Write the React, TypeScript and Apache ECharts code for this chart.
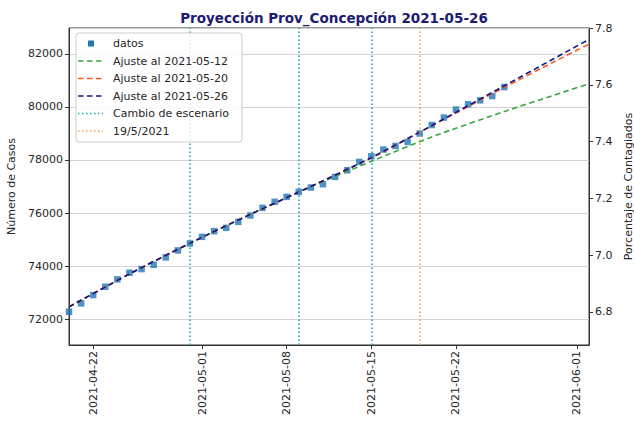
import React, { useEffect, useRef } from "react";
import * as echarts from "echarts";

const categories = [
  "2021-04-20","2021-04-21","2021-04-22","2021-04-23","2021-04-24","2021-04-25","2021-04-26",
  "2021-04-27","2021-04-28","2021-04-29","2021-04-30","2021-05-01","2021-05-02","2021-05-03",
  "2021-05-04","2021-05-05","2021-05-06","2021-05-07","2021-05-08","2021-05-09","2021-05-10",
  "2021-05-11","2021-05-12","2021-05-13","2021-05-14","2021-05-15","2021-05-16","2021-05-17",
  "2021-05-18","2021-05-19","2021-05-20","2021-05-21","2021-05-22","2021-05-23","2021-05-24",
  "2021-05-25","2021-05-26","2021-05-27","2021-05-28","2021-05-29","2021-05-30","2021-05-31",
  "2021-06-01","2021-06-02",
];

// observed cases, one per day from 2021-04-20 to 2021-05-26
const datosCasos = [
  72275, 72592, 72904, 73217, 73496, 73745, 73884, 74046, 74325, 74588,
  74852, 75101, 75316, 75440, 75666, 75907, 76194, 76420, 76608, 76797,
  76962, 77087, 77362, 77614, 77927, 78142, 78394, 78530, 78681, 78997,
  79320, 79600, 79902, 80101, 80252, 80414, 80753,
];

const ajusteFechas = [
  "2021-04-20","2021-04-25","2021-04-30","2021-05-05","2021-05-10",
  "2021-05-15","2021-05-20","2021-05-26","2021-05-30","2021-06-02",
];
const ajuste0512 = [72460, 73700, 74860, 75950, 76990, 77950, 78870, 79830, 80430, 80880];
const ajuste0520 = [72460, 73700, 74860, 75950, 77000, 78080, 79290, 80740, 81680, 82370];
const ajuste0526 = [72460, 73700, 74860, 75950, 77000, 78090, 79300, 80800, 81800, 82550];

const cambioEscenario = ["2021-04-30", "2021-05-09", "2021-05-15"];
const fecha195 = ["2021-05-19"];

const leftMin = 71020;
const leftMax = 82980;
const rightMin = 6.683;
const rightMax = 7.8;

const FONT = "DejaVu Sans";
const C_DATOS = "#1f77b4";
const C_GREEN = "#3aa83a";
const C_ORANGE = "#ff5722";
const C_NAVY = "#14148a";
const C_CYAN = "#17a8b8";
const C_ORANGE2 = "#f5a040";

const tickDays = ["01", "08", "15", "22"];
const showTick = (_i: number, v: string) => tickDays.includes(String(v).slice(8));

export default function App() {
  const ref = useRef<HTMLDivElement>(null);
  useEffect(() => {
    if (!ref.current) return;
    const chart = echarts.init(ref.current, null, { renderer: "svg" });

    const legendRows = [
      { kind: "square", color: C_DATOS, text: "datos" },
      { kind: "dash", color: C_GREEN, text: "Ajuste al 2021-05-12" },
      { kind: "dash", color: C_ORANGE, text: "Ajuste al 2021-05-20" },
      { kind: "dash", color: C_NAVY, text: "Ajuste al 2021-05-26" },
      { kind: "dot", color: C_CYAN, text: "Cambio de escenario" },
      { kind: "dot", color: C_ORANGE2, text: "19/5/2021" },
    ];
    const legendEls: any[] = [
      {
        type: "rect",
        shape: { x: 76, y: 33, width: 166, height: 109, r: 3 },
        style: { fill: "rgba(255,255,255,0.85)", stroke: "#cccccc", lineWidth: 1 },
        z: 100,
      },
    ];
    legendRows.forEach((r, i) => {
      const y = 43.5 + i * 17.5;
      if (r.kind === "square") {
        legendEls.push({
          type: "rect",
          shape: { x: 88, y: y - 3, width: 6, height: 6 },
          style: { fill: r.color },
          z: 101,
        });
      } else {
        legendEls.push({
          type: "line",
          shape: { x1: 78, y1: y, x2: 103, y2: y },
          style: {
            stroke: r.color,
            lineWidth: 1.6,
            lineDash: r.kind === "dash" ? [5.5, 3.5] : [1.5, 2.5],
          },
          z: 101,
        });
      }
      legendEls.push({
        type: "text",
        x: 113,
        y: y,
        style: {
          text: r.text,
          font: `11px ${FONT}`,
          fill: "#262626",
          verticalAlign: "middle",
          align: "left",
        },
        z: 101,
      });
    });

    const fitSeries = (name: string, vals: number[], color: string) => ({
      name,
      type: "line",
      xAxisIndex: 0,
      yAxisIndex: 0,
      data: ajusteFechas.map((d, i) => [d, vals[i]]),
      symbol: "none",
      smooth: 0.25,
      lineStyle: { color, width: 1.6, type: [5.5, 3.5] },
      z: 3,
    });

    chart.setOption({
      animation: false,
      textStyle: { fontFamily: FONT },
      title: {
        text: "Proyección Prov_Concepción 2021-05-26",
        left: 329,
        top: 6,
        textAlign: "center",
        textStyle: { fontFamily: FONT, fontSize: 13.5, fontWeight: "bold", color: "#1c1c72" },
      },
      grid: {
        left: 69,
        top: 28,
        width: 520,
        height: 317,
        show: true,
        borderColor: "#333",
        borderWidth: 1,
        backgroundColor: "transparent",
        containLabel: false,
        outerBoundsMode: "none",
      },
      xAxis: {
        type: "category",
        data: categories,
        boundaryGap: false,
        axisLine: { show: true, lineStyle: { color: "#333", width: 1 } },
        axisTick: { show: true, interval: showTick, length: 4, lineStyle: { color: "#333" } },
        axisLabel: {
          interval: showTick,
          rotate: 90,
          margin: 6,
          fontSize: 11,
          fontFamily: FONT,
          color: "#262626",
        },
        splitLine: { show: false },
      },
      yAxis: [
        {
          type: "value",
          position: "left",
          min: leftMin,
          max: leftMax,
          splitNumber: 5,
          name: "Número de Casos",
          nameLocation: "middle",
          nameGap: 42,
          nameRotate: 90,
          nameTextStyle: { fontFamily: FONT, fontSize: 11, color: "#262626" },
          axisLine: { show: true, lineStyle: { color: "#333" } },
          axisTick: { show: true, length: 4, lineStyle: { color: "#333" } },
          axisLabel: {
            showMinLabel: false,
            showMaxLabel: false,
            fontSize: 11,
            fontFamily: FONT,
            color: "#262626",
            margin: 6,
            formatter: (v: number) => String(Math.round(v)),
          },
          splitLine: { show: true, lineStyle: { color: "#d3d3d3", width: 1 } },
        },
        {
          type: "value",
          position: "right",
          min: rightMin,
          max: rightMax,
          splitNumber: 5,
          name: "Porcentaje de Contagiados",
          nameLocation: "middle",
          nameGap: 31,
          nameRotate: 90,
          nameTextStyle: { fontFamily: FONT, fontSize: 11, color: "#262626" },
          axisLine: { show: true, lineStyle: { color: "#333" } },
          axisTick: { show: true, length: 4, lineStyle: { color: "#333" } },
          axisLabel: {
            showMinLabel: false,
            fontSize: 11,
            fontFamily: FONT,
            color: "#262626",
            margin: 6,
            formatter: (v: number) => v.toFixed(1),
          },
          splitLine: { show: false },
        },
      ],
      series: [
        {
          name: "datos",
          type: "scatter",
          data: datosCasos.map((v, i) => [categories[i], v]),
          symbol: "rect",
          symbolSize: 6.5,
          itemStyle: { color: C_DATOS },
          z: 2,
        },
        fitSeries("Ajuste al 2021-05-12", ajuste0512, C_GREEN),
        fitSeries("Ajuste al 2021-05-20", ajuste0520, C_ORANGE),
        fitSeries("Ajuste al 2021-05-26", ajuste0526, C_NAVY),
        {
          name: "Cambio de escenario",
          type: "line",
          data: [],
          markLine: {
            silent: true,
            symbol: "none",
            label: { show: false },
            lineStyle: { color: C_CYAN, width: 1.6, type: [1.5, 2.5] },
            data: cambioEscenario.map((d) => ({ xAxis: d })),
          },
          z: 4,
        },
        {
          name: "19/5/2021",
          type: "line",
          data: [],
          markLine: {
            silent: true,
            symbol: "none",
            label: { show: false },
            lineStyle: { color: C_ORANGE2, width: 1.6, type: [1.5, 2.5] },
            data: fecha195.map((d) => ({ xAxis: d })),
          },
          z: 4,
        },
      ],
      graphic: legendEls,
    });

    return () => chart.dispose();
  }, []);

  return (
    <div
      ref={ref}
      style={{ position: "fixed", left: 0, top: 0, width: 634, height: 423, background: "#fff" }}
    />
  );
}
